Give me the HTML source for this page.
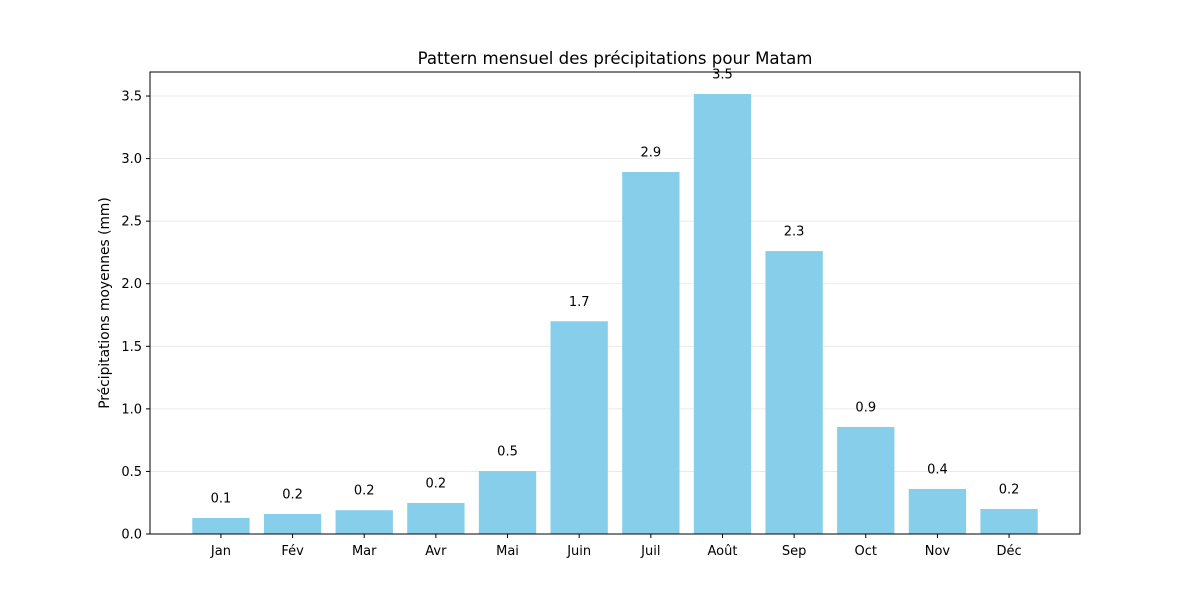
<!DOCTYPE html>
<html><head><meta charset="utf-8"><style>
body{margin:0;background:#fff;font-family:"Liberation Sans","DejaVu Sans",sans-serif}
</style></head><body>
<svg id="c" width="1200" height="600" xmlns="http://www.w3.org/2000/svg" font-family="DejaVu Sans, Liberation Sans, sans-serif"></svg>
<script>
const categories=["Jan","Fév","Mar","Avr","Mai","Juin","Juil","Août","Sep","Oct","Nov","Déc"];
const values=[0.128,0.16,0.19,0.248,0.503,1.70,2.893,3.516,2.261,0.855,0.36,0.2];
const yTicks=[0,0.5,1.0,1.5,2.0,2.5,3.0,3.5];
const L=150,R=1080,T=72,B=534,ymax=3.692,xmin=-0.99,xmax=11.99;
const y=v=>B-v/ymax*(B-T);
const x=i=>L+(i-xmin)/(xmax-xmin)*(R-L);
const bw=0.8*(R-L)/(xmax-xmin);
const s=document.getElementById('c');
function el(t,a,txt){const e=document.createElementNS('http://www.w3.org/2000/svg',t);for(const k in a)e.setAttribute(k,a[k]);if(txt!=null)e.textContent=txt;s.appendChild(e);return e;}
yTicks.forEach(v=>{
 const g=el('line',{x1:L,x2:R,y1:y(v),y2:y(v),stroke:'#e6e6e6','stroke-width':0.8});
 
 
 el('line',{x1:L-4,x2:L,y1:y(v),y2:y(v),stroke:'#000'});
 const t=el('text',{x:L-8,y:y(v)+4.5,'text-anchor':'end','font-size':13},v.toFixed(1));
 
 
});
categories.forEach((c,i)=>{
 const b=el('rect',{x:x(i)-bw/2,y:y(values[i]),width:bw,height:B-y(values[i]),fill:'#87ceeb'});
 
 
 el('line',{x1:x(i),x2:x(i),y1:B,y2:B+4,stroke:'#000'});
 const t=el('text',{x:x(i),y:B+21,'text-anchor':'middle','font-size':13},c);
 
 
 const v=el('text',{x:x(i),y:y(values[i]+0.1)-3,'text-anchor':'middle','font-size':13},values[i].toFixed(1));
 
 
});
const f=el('rect',{x:L,y:T,width:R-L,height:B-T,fill:'none',stroke:'#000','stroke-width':1});


const ti=el('text',{x:(L+R)/2,y:64,'text-anchor':'middle','font-size':16.6},'Pattern mensuel des précipitations pour Matam');


const yl=el('text',{x:109,y:(T+B)/2,'text-anchor':'middle','font-size':13.8,transform:`rotate(-90 109 ${(T+B)/2})`},'Précipitations moyennes (mm)');


</script>
</body></html>
